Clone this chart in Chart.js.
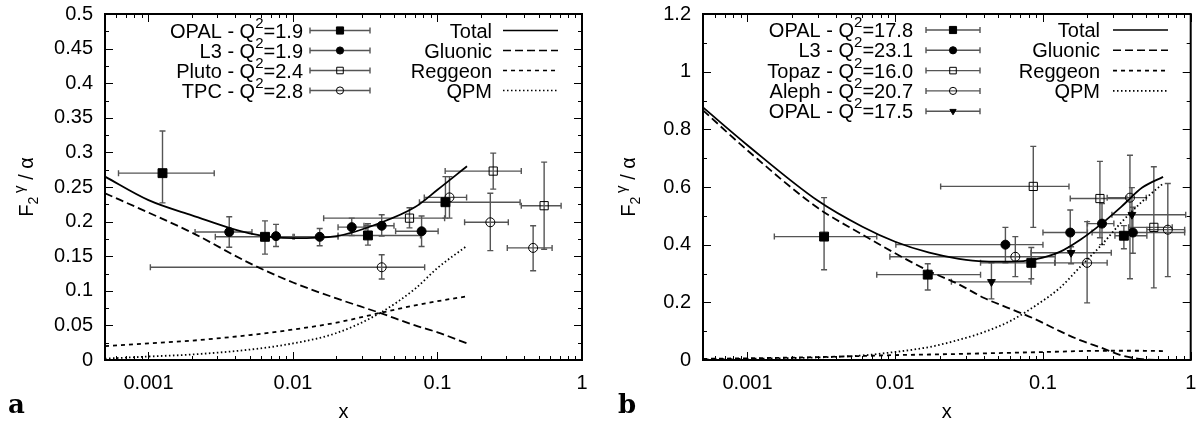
<!DOCTYPE html>
<html lang="en">
<head>
<meta charset="UTF-8">
<title>Photon structure function F2</title>
<script src="https://cdn.jsdelivr.net/npm/chart.js"></script>
<style>
    body { margin: 0; background: #fff; }
    .panel { position: absolute; top: 0; width: 599px; height: 422px; }
</style>
</head>
<body>
<div class="panel" style="left:0"><canvas id="chartA" width="599" height="422"></canvas></div>
<div class="panel" style="left:599px"><canvas id="chartB" width="599" height="422"></canvas></div>

<script>
// ---------- panel a (Q^2 ~ 2) ----------
const curveXA   = [0.0005, 0.001, 0.002, 0.005, 0.01, 0.02, 0.04, 0.07, 0.1, 0.16];
const totalA    = [0.265, 0.231, 0.209, 0.183, 0.176, 0.179, 0.198, 0.221, 0.246, 0.280];
const gluonicA  = [0.241, 0.213, 0.184, 0.140, 0.112, 0.089, 0.068, 0.050, 0.040, 0.024];
const reggeonA  = [0.020, 0.024, 0.028, 0.036, 0.044, 0.054, 0.068, 0.079, 0.085, 0.092];
const qpmA      = [0.002, 0.005, 0.008, 0.015, 0.024, 0.039, 0.068, 0.103, 0.133, 0.165];

const opalA  = { x: [0.00125, 0.0064, 0.033, 0.1135], y: [0.270, 0.178, 0.180, 0.228],
                 xLo: [0.00062, 0.0029, 0.0205, 0.075], xHi: [0.00285, 0.0102, 0.0763, 0.373],
                 yLo: [0.227, 0.153, 0.166, 0.205], yHi: [0.331, 0.201, 0.197, 0.265] };
const l3A    = { x: [0.00362, 0.00763, 0.0153, 0.0255, 0.0411, 0.0776], y: [0.185, 0.179, 0.178, 0.192, 0.194, 0.186],
                 xLo: [0.0021, 0.00763, 0.010, 0.0205, 0.031, 0.0513], xHi: [0.0052, 0.00763, 0.0205, 0.032, 0.050, 0.101],
                 yLo: [0.163, 0.164, 0.165, 0.180, 0.179, 0.164], yHi: [0.207, 0.196, 0.190, 0.205, 0.210, 0.208] };
const plutoA = { x: [0.064, 0.243, 0.547], y: [0.205, 0.273, 0.223],
                 xLo: [0.0163, 0.113, 0.38], xHi: [0.112, 0.38, 0.717],
                 yLo: [0.191, 0.247, 0.160], yHi: [0.220, 0.299, 0.286] };
const tpcA   = { x: [0.0411, 0.121, 0.232, 0.459], y: [0.134, 0.235, 0.199, 0.162],
                 xLo: [0.00103, 0.081, 0.154, 0.304], xHi: [0.0815, 0.159, 0.309, 0.621],
                 yLo: [0.117, 0.205, 0.158, 0.129], yHi: [0.152, 0.265, 0.241, 0.194] };
const labelsA = ['OPAL - Q|2|=1.9', 'L3 - Q|2|=1.9', 'Pluto - Q|2|=2.4', 'TPC - Q|2|=2.8'];

// ---------- panel b (Q^2 ~ 20) ----------
const curveXB   = [0.0005, 0.001, 0.003, 0.006, 0.01, 0.017, 0.027, 0.04, 0.06, 0.09, 0.13, 0.18, 0.25, 0.34, 0.47, 0.65];
const totalB    = [0.876, 0.745, 0.552, 0.462, 0.410, 0.372, 0.351, 0.342, 0.341, 0.350, 0.375, 0.418, 0.473, 0.532, 0.598, 0.635];
const gluonicB  = [0.866, 0.727, 0.527, 0.435, 0.370, 0.308, 0.262, 0.215, 0.178, 0.140, 0.100, 0.068, 0.042, 0.016, 0.003, 0.0];
const reggeonB  = [0.004, 0.006, 0.010, 0.014, 0.017, 0.019, 0.021, 0.023, 0.025, 0.027, 0.029, 0.031, 0.032, 0.032, 0.032, 0.031];
const qpmB      = [0.002, 0.004, 0.009, 0.016, 0.028, 0.045, 0.070, 0.097, 0.135, 0.190, 0.250, 0.325, 0.400, 0.478, 0.550, 0.612];

const opalB   = { x: [0.0033, 0.0166, 0.0834, 0.353], y: [0.428, 0.296, 0.337, 0.431],
                  xLo: [0.00152, 0.0075, 0.0378, 0.307], xHi: [0.0075, 0.0378, 0.12, 0.505],
                  yLo: [0.313, 0.243, 0.282, 0.386], yHi: [0.563, 0.334, 0.390, 0.466] };
const l3B     = { x: [0.0557, 0.153, 0.251, 0.406], y: [0.400, 0.442, 0.473, 0.442],
                  xLo: [0.0101, 0.10, 0.20, 0.215], xHi: [0.10, 0.20, 0.302, 0.91],
                  yLo: [0.337, 0.372, 0.400, 0.370], yHi: [0.460, 0.520, 0.543, 0.530] };
const topazB  = { x: [0.086, 0.243, 0.563], y: [0.602, 0.560, 0.460],
                  xLo: [0.0203, 0.153, 0.38], xHi: [0.150, 0.37, 0.75],
                  yLo: [0.460, 0.424, 0.250], yHi: [0.741, 0.689, 0.670] };
const alephB  = { x: [0.065, 0.199, 0.388, 0.70], y: [0.358, 0.337, 0.563, 0.452],
                  xLo: [0.0092, 0.121, 0.272, 0.505], xHi: [0.121, 0.272, 0.50, 0.91],
                  yLo: [0.289, 0.198, 0.282, 0.289], yHi: [0.428, 0.480, 0.710, 0.612] };
const opal2B  = { x: [0.0448, 0.155, 0.40], y: [0.271, 0.372, 0.504],
                  xLo: [0.024, 0.083, 0.293], xHi: [0.083, 0.29, 0.925],
                  yLo: [0.212, 0.334, 0.438], yHi: [0.337, 0.393, 0.598] };
const labelsB = ['OPAL - Q|2|=17.8', 'L3 - Q|2|=23.1', 'Topaz - Q|2|=16.0', 'Aleph - Q|2|=20.7', 'OPAL - Q|2|=17.5'];

const curveLabels = ['Total', 'Gluonic', 'Reggeon', 'QPM'];

const FONT = '"Liberation Sans", Arial, Helvetica, sans-serif';

// marker styles
const fSquare = { pointStyle: 'rect', pointRadius: 6.3, backgroundColor: '#000', borderColor: '#000', borderWidth: 1 };
const fCircle = { pointStyle: 'circle', pointRadius: 4.5, backgroundColor: '#000', borderColor: '#000', borderWidth: 1 };
const oSquare = { pointStyle: 'rect', pointRadius: 5.8, backgroundColor: 'rgba(0,0,0,0)', borderColor: '#000', borderWidth: 1 };
const oCircle = { pointStyle: 'circle', pointRadius: 4.5, backgroundColor: 'rgba(0,0,0,0)', borderColor: '#000', borderWidth: 1 };
const fTriangle = { pointStyle: 'triangle', pointRadius: 4.5, rotation: 180, backgroundColor: '#000', borderColor: '#000', borderWidth: 1 };

const dashes = [[], [8, 4], [4, 4], [1.5, 2.5]];

function pointSet(s, style) {
    return Object.assign({
        data: s.x.map((x, i) => ({ x: x, y: s.y[i] })),
        err: s,
        showLine: false
    }, style);
}

function curveSet(xs, ys, k) {
    return {
        data: xs.map((x, i) => ({ x: x, y: ys[i] })),
        showLine: true,
        pointRadius: 0,
        borderColor: '#000',
        borderWidth: 1.8,
        borderDash: dashes[k],
        cubicInterpolationMode: 'monotone'
    };
}

// draw text made of [text, size, shift] pieces
function drawRich(ctx, parts, x, y, align) {
    let w = 0;
    parts.forEach(p => { ctx.font = p[1] + 'px ' + FONT; w += ctx.measureText(p[0]).width; });
    let cx = align === 'right' ? x - w : (align === 'center' ? x - w / 2 : x);
    ctx.textAlign = 'left';
    ctx.textBaseline = 'alphabetic';
    parts.forEach(p => {
        ctx.font = p[1] + 'px ' + FONT;
        ctx.fillText(p[0], cx, y + (p[2] || 0));
        cx += ctx.measureText(p[0]).width;
    });
}

function legendParts(label) {
    const t = label.split('|');
    return [[t[0], 20], [t[1], 15, -10], [t[2], 20]];
}

const errorBars = {
    id: 'errorBars',
    beforeDatasetsDraw(chart) {
        const ctx = chart.ctx, xs = chart.scales.x, ys = chart.scales.y;
        ctx.save();
        ctx.strokeStyle = '#555';
        ctx.lineWidth = 1.4;
        chart.data.datasets.forEach(ds => {
            if (!ds.err) return;
            const e = ds.err;
            e.x.forEach((xv, i) => {
                const px = xs.getPixelForValue(xv), py = ys.getPixelForValue(e.y[i]);
                const x0 = xs.getPixelForValue(e.xLo[i]), x1 = xs.getPixelForValue(e.xHi[i]);
                const y0 = ys.getPixelForValue(e.yLo[i]), y1 = ys.getPixelForValue(e.yHi[i]);
                ctx.beginPath();
                if (x1 - x0 > 1) {
                    ctx.moveTo(x0, py); ctx.lineTo(x1, py);
                    ctx.moveTo(x0, py - 3); ctx.lineTo(x0, py + 3);
                    ctx.moveTo(x1, py - 3); ctx.lineTo(x1, py + 3);
                }
                ctx.moveTo(px, y0); ctx.lineTo(px, y1);
                ctx.moveTo(px - 3, y0); ctx.lineTo(px + 3, y0);
                ctx.moveTo(px - 3, y1); ctx.lineTo(px + 3, y1);
                ctx.stroke();
            });
        });
        ctx.restore();
    }
};

function makeDecor(cfg) {
    return {
        id: 'decor',
        afterDraw(chart) {
            const ctx = chart.ctx, a = chart.chartArea, xs = chart.scales.x, ys = chart.scales.y;
            ctx.save();
            ctx.strokeStyle = '#000';
            ctx.fillStyle = '#000';

            // inward ticks on all four sides
            ctx.lineWidth = 1;
            ctx.beginPath();
            for (let d = 1e-4; d <= 1.0001; d *= 10) {
                for (let m = 1; m <= 9; m++) {
                    const v = m * d;
                    if (v < xs.min * 0.999 || v > xs.max * 1.001) continue;
                    const px = Math.round(xs.getPixelForValue(v)) + 0.5, len = m === 1 ? 8 : 4;
                    ctx.moveTo(px, a.bottom); ctx.lineTo(px, a.bottom - len);
                    ctx.moveTo(px, a.top); ctx.lineTo(px, a.top + len);
                }
            }
            const n = Math.round(cfg.yMax / cfg.yMinor);
            for (let i = 0; i <= n; i++) {
                const py = Math.round(ys.getPixelForValue(i * cfg.yMinor)) + 0.5, len = i % 2 === 0 ? 8 : 4;
                ctx.moveTo(a.left, py); ctx.lineTo(a.left + len, py);
                ctx.moveTo(a.right, py); ctx.lineTo(a.right - len, py);
            }
            ctx.stroke();

            // frame
            ctx.lineWidth = 2;
            ctx.strokeRect(a.left, a.top, a.right - a.left, a.bottom - a.top);

            // legend: data series
            cfg.labels.forEach((lab, i) => {
                const y = cfg.legY + i * cfg.legDy;
                ctx.fillStyle = '#000';
                drawRich(ctx, legendParts(lab), cfg.legTextX, y + 7, 'right');
                ctx.strokeStyle = '#555';
                ctx.lineWidth = 1.4;
                ctx.setLineDash([]);
                ctx.beginPath();
                ctx.moveTo(cfg.legS0, y); ctx.lineTo(cfg.legS1, y);
                ctx.moveTo(cfg.legS0, y - 3); ctx.lineTo(cfg.legS0, y + 3);
                ctx.moveTo(cfg.legS1, y - 3); ctx.lineTo(cfg.legS1, y + 3);
                ctx.stroke();
                const st = cfg.styles[i];
                ctx.fillStyle = st.backgroundColor;
                ctx.strokeStyle = st.borderColor;
                ctx.lineWidth = 1;
                Chart.helpers.drawPoint(ctx, { pointStyle: st.pointStyle, radius: st.pointRadius * 0.8,
                    rotation: st.rotation || 0, borderWidth: 1 }, (cfg.legS0 + cfg.legS1) / 2, y);
            });

            // legend: curves
            curveLabels.forEach((lab, i) => {
                const y = cfg.legY + i * cfg.legDy;
                ctx.fillStyle = '#000';
                drawRich(ctx, [[lab, 20]], cfg.curTextX, y + 7, 'right');
                ctx.strokeStyle = '#000';
                ctx.lineWidth = 1.6;
                ctx.setLineDash(dashes[i]);
                ctx.beginPath();
                ctx.moveTo(cfg.curL0, y); ctx.lineTo(cfg.curL1, y);
                ctx.stroke();
            });
            ctx.setLineDash([]);

            // axis titles
            ctx.fillStyle = '#000';
            drawRich(ctx, [['x', 20]], (a.left + a.right) / 2, 418, 'center');
            ctx.save();
            ctx.translate(cfg.yTitleX, (a.top + a.bottom) / 2);
            ctx.rotate(-Math.PI / 2);
            drawRich(ctx, [['F', 20], ['2', 14, 5], [' ', 14], ['\u03b3', 15, -9], [' / \u03b1', 20]], 0, 0, 'center');
            ctx.restore();

            // panel letter
            ctx.font = 'bold 26px "DejaVu Serif", "Liberation Serif", serif';
            ctx.textAlign = 'left';
            ctx.textBaseline = 'alphabetic';
            ctx.fillText(cfg.letter, cfg.letterX, 413);
            ctx.restore();
        }
    };
}

function makePanel(id, cfg) {
    const ctx = document.getElementById(id).getContext('2d');
    return new Chart(ctx, {
        type: 'scatter',
        data: { datasets: cfg.datasets },
        options: {
            responsive: false,
            animation: false,
            layout: { padding: { left: 0, top: 14, right: cfg.padRight, bottom: 0 } },
            plugins: { legend: { display: false }, tooltip: { enabled: false } },
            scales: {
                x: {
                    type: 'logarithmic',
                    min: 0.0005,
                    max: 1,
                    grid: { display: false, drawTicks: false },
                    border: { display: false },
                    ticks: {
                        autoSkip: false,
                        maxRotation: 0,
                        padding: 11,
                        color: '#000',
                        font: { family: FONT, size: 20 },
                        callback: v => {
                            const l = Math.log10(v);
                            return (Math.abs(l - Math.round(l)) < 1e-6 && v >= 0.00099) ? String(+v.toPrecision(3)) : '';
                        }
                    },
                    afterFit: s => { s.height = 62; s.paddingLeft = 0; s.paddingRight = 0; }
                },
                y: {
                    min: 0,
                    max: cfg.yMax,
                    grid: { display: false, drawTicks: false },
                    border: { display: false },
                    ticks: {
                        stepSize: cfg.yStep,
                        padding: 12,
                        color: '#000',
                        font: { family: FONT, size: 20 },
                        callback: v => String(Math.round(v * 1000) / 1000)
                    },
                    afterFit: s => { s.width = cfg.yWidth; s.paddingTop = 0; s.paddingBottom = 0; }
                }
            }
        },
        plugins: [errorBars, makeDecor(cfg)]
    });
}

const stylesA = [fSquare, fCircle, oSquare, oCircle];
makePanel('chartA', {
    yMax: 0.5, yStep: 0.05, yMinor: 0.025, yWidth: 105, padRight: 17,
    datasets: [
        pointSet(opalA, fSquare), pointSet(l3A, fCircle), pointSet(plutoA, oSquare), pointSet(tpcA, oCircle),
        curveSet(curveXA, totalA, 0), curveSet(curveXA, gluonicA, 1),
        curveSet(curveXA, reggeonA, 2), curveSet(curveXA, qpmA, 3)
    ],
    labels: labelsA, styles: stylesA,
    legY: 30.5, legDy: 20, legTextX: 303, legS0: 310, legS1: 370,
    curTextX: 492, curL0: 503, curL1: 558,
    yTitleX: 33, letter: 'a', letterX: 8
});

const stylesB = [fSquare, fCircle, oSquare, oCircle, fTriangle];
makePanel('chartB', {
    yMax: 1.2, yStep: 0.2, yMinor: 0.1, yWidth: 104, padRight: 6,
    datasets: [
        pointSet(opalB, fSquare), pointSet(l3B, fCircle), pointSet(topazB, oSquare),
        pointSet(alephB, oCircle), pointSet(opal2B, fTriangle),
        curveSet(curveXB, totalB, 0), curveSet(curveXB, gluonicB, 1),
        curveSet(curveXB, reggeonB, 2), curveSet(curveXB, qpmB, 3)
    ],
    labels: labelsB, styles: stylesB,
    legY: 30, legDy: 20.3, legTextX: 314, legS0: 327, legS1: 381,
    curTextX: 501, curL0: 514, curL1: 569,
    yTitleX: 36, letter: 'b', letterX: 19
});
</script>
</body>
</html>
